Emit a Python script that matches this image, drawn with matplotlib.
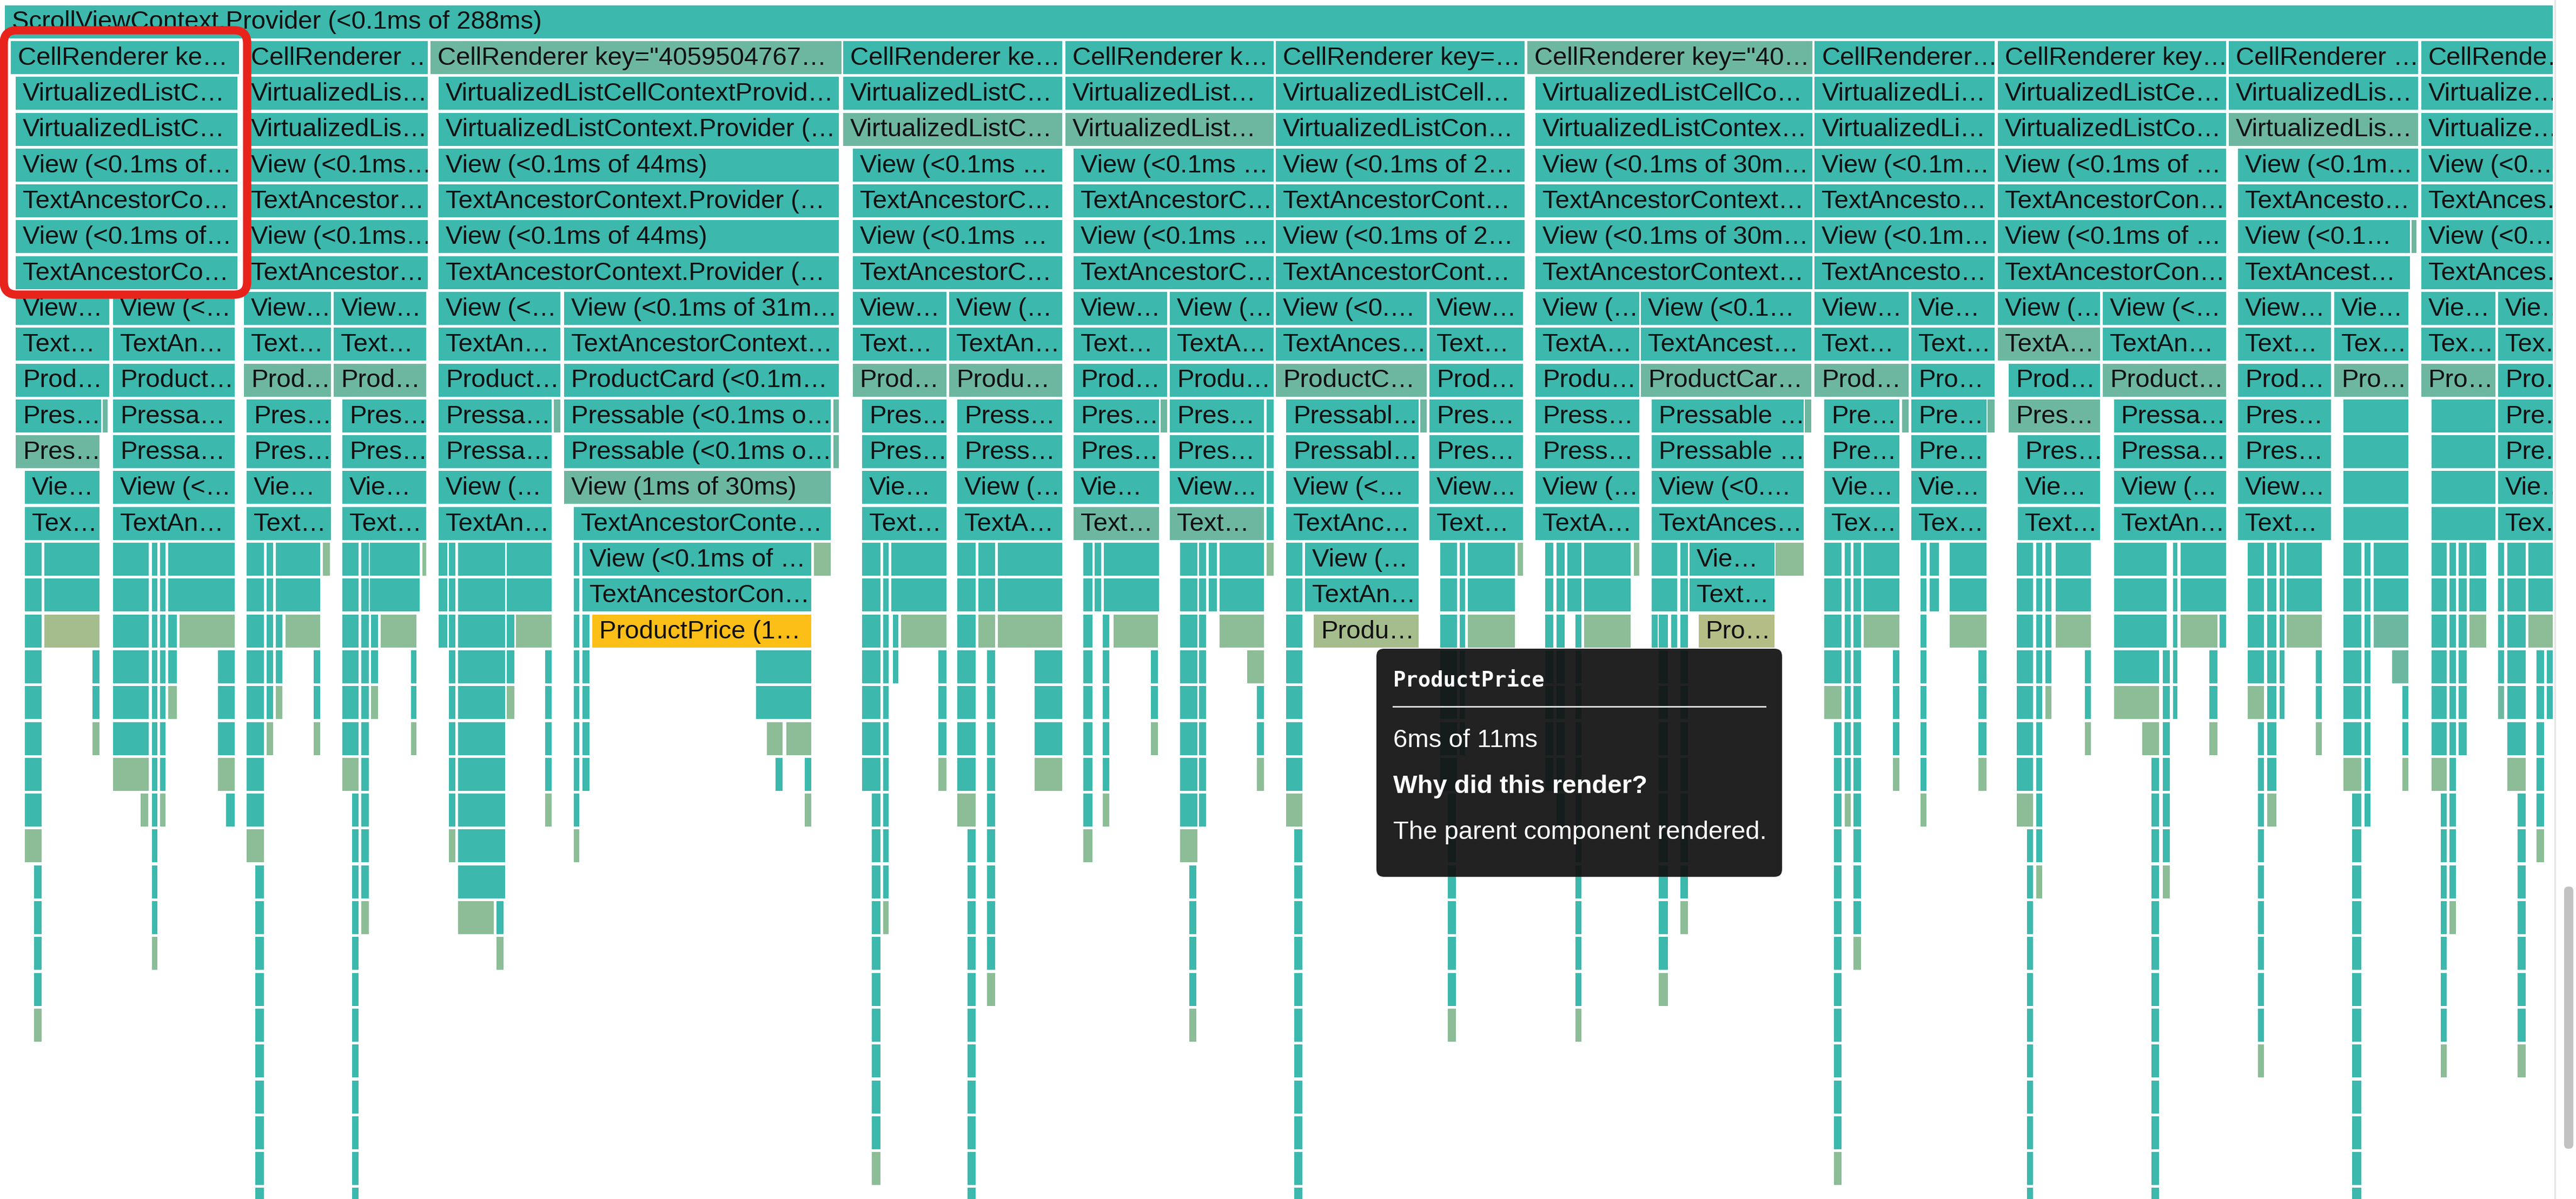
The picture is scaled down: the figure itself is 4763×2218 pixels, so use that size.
import matplotlib
matplotlib.use("Agg")
import matplotlib.pyplot as plt
from matplotlib.patches import FancyBboxPatch
from matplotlib.lines import Line2D
from matplotlib.transforms import Bbox, TransformedBbox, Affine2D, ScaledTranslation

# ---------------------------------------------------------------------------
# Flame-graph data: (depth row, start ms, end ms, label, kind)
# kind: t = rendered, d = muted, g = short render, o/p = longer render, y = selected
# ---------------------------------------------------------------------------
ROOT = [(0, 0.0, 288.0, "ScrollViewContext.Provider (<0.1ms of 288ms)", "t")]

COL1 = [
    (1, 0.70, 26.50, "CellRenderer ke…", "t"),
    (2, 1.20, 26.27, "VirtualizedListC…", "t"),
    (3, 1.20, 26.27, "VirtualizedListC…", "t"),
    (4, 1.20, 26.27, "View (<0.1ms of…", "t"),
    (5, 1.20, 26.27, "TextAncestorCo…", "t"),
    (6, 1.20, 26.27, "View (<0.1ms of…", "t"),
    (7, 1.20, 26.27, "TextAncestorCo…", "t"),
    (8, 1.20, 11.80, "View…", "t"), (8, 12.24, 25.96, "View (<…", "t"),
    (9, 1.20, 11.80, "Text…", "t"), (9, 12.24, 25.96, "TextAn…", "t"),
    (10, 1.20, 11.80, "Prod…", "t"), (10, 12.24, 25.96, "Product…", "t"),
    (11, 1.20, 10.87, "Pres…", "t"), (11, 11.05, 11.61, "", "d"), (11, 12.24, 25.96, "Pressa…", "t"),
    (12, 1.20, 10.68, "Pres…", "d"), (12, 12.24, 25.96, "Pressa…", "t"),
    (13, 2.26, 10.68, "Vie…", "t"), (13, 12.24, 25.96, "View (<…", "t"),
    (14, 2.26, 10.68, "Tex…", "t"), (14, 12.24, 25.96, "TextAn…", "t"),
    (15, 4.44, 10.68, "", "t"), (16, 4.44, 10.68, "", "t"), (17, 4.44, 10.68, "", "o"),
    (15, 18.48, 25.96, "", "t"), (16, 18.48, 25.96, "", "t"), (17, 19.72, 25.96, "", "g"),
    (22, 15.36, 16.17, "", "g"), (22, 25.03, 25.96, "", "t"),
]
TAILS1 = [(2.26, 4.13, 15, 23, "g"), (3.32, 4.13, 24, 28, "g"), (9.93, 10.68, 18, 20, "g"),
          (12.24, 16.29, 15, 21, "g"), (16.60, 17.23, 15, 26, "g"), (17.54, 18.16, 15, 22, "g"),
          (18.48, 19.41, 17, 19, "g"), (24.09, 25.96, 18, 21, "g")]

COL2 = [
    (1, 27.00, 47.79, "CellRenderer …", "t"),
    (2, 27.00, 47.79, "VirtualizedLis…", "t"),
    (3, 27.00, 47.79, "VirtualizedLis…", "t"),
    (4, 27.00, 47.79, "View (<0.1ms…", "t"),
    (5, 27.00, 47.79, "TextAncestor…", "t"),
    (6, 27.00, 47.79, "View (<0.1ms…", "t"),
    (7, 27.00, 47.79, "TextAncestor…", "t"),
    (8, 27.00, 36.88, "View…", "t"), (8, 37.19, 47.61, "View…", "t"),
    (9, 27.00, 36.88, "Text…", "t"), (9, 37.19, 47.61, "Text…", "t"),
    (10, 27.00, 36.88, "Prod…", "d"), (10, 37.19, 47.61, "Prod…", "d"),
    (11, 27.33, 36.88, "Pres…", "t"), (11, 38.13, 47.61, "Pres…", "t"),
    (12, 27.33, 36.88, "Pres…", "t"), (12, 38.13, 47.61, "Pres…", "t"),
    (13, 27.33, 36.88, "Vie…", "t"), (13, 38.13, 47.61, "Vie…", "t"),
    (14, 27.33, 36.88, "Text…", "t"), (14, 38.13, 47.61, "Text…", "t"),
    (15, 30.64, 35.63, "", "t"), (15, 35.94, 36.75, "", "g"), (16, 30.64, 35.63, "", "t"), (17, 31.70, 35.63, "", "g"),
    (15, 41.24, 46.86, "", "t"), (15, 47.17, 47.61, "", "g"), (16, 41.24, 46.86, "", "t"), (17, 42.49, 46.55, "", "g"),
]
TAILS2 = [(27.33, 29.27, 15, 23, "g"), (28.33, 29.27, 24, 33, "t"), (29.58, 30.33, 15, 20, "g"),
          (30.64, 31.39, 17, 19, "g"), (34.88, 35.63, 18, 20, "g"),
          (38.13, 40.00, 15, 21, "g"), (39.25, 40.00, 22, 33, "t"), (40.31, 41.12, 15, 25, "g"),
          (41.37, 42.18, 17, 19, "g"), (45.92, 46.55, 18, 20, "g")]

COL3 = [
    (1, 48.11, 94.58, "CellRenderer key=\"4059504767…", "d"),
    (2, 49.04, 94.27, "VirtualizedListCellContextProvid…", "t"),
    (3, 49.04, 94.27, "VirtualizedListContext.Provider (…", "t"),
    (4, 49.04, 94.27, "View (<0.1ms of 44ms)", "t"),
    (5, 49.04, 94.27, "TextAncestorContext.Provider (…", "t"),
    (6, 49.04, 94.27, "View (<0.1ms of 44ms)", "t"),
    (7, 49.04, 94.27, "TextAncestorContext.Provider (…", "t"),
    (8, 49.04, 62.77, "View (<…", "t"), (8, 63.20, 94.27, "View (<0.1ms of 31m…", "t"),
    (9, 49.04, 62.77, "TextAn…", "t"), (9, 63.20, 94.27, "TextAncestorContext…", "t"),
    (10, 49.04, 62.77, "Product…", "t"), (10, 63.20, 94.27, "ProductCard (<0.1m…", "t"),
    (11, 49.04, 61.83, "Pressa…", "t"), (11, 62.02, 62.77, "", "d"),
    (11, 63.20, 93.33, "Pressable (<0.1ms o…", "t"), (11, 93.65, 94.27, "", "d"),
    (12, 49.04, 61.83, "Pressa…", "t"), (12, 63.20, 93.33, "Pressable (<0.1ms o…", "t"), (12, 93.65, 94.27, "", "d"),
    (13, 49.04, 61.83, "View (…", "t"), (13, 63.20, 93.33, "View (1ms of 30ms)", "d"),
    (14, 49.04, 61.83, "TextAn…", "t"), (14, 64.33, 93.33, "TextAncestorConte…", "t"),
    (15, 56.72, 61.83, "", "t"), (16, 56.72, 61.83, "", "t"), (17, 57.78, 61.83, "", "g"),
    (15, 65.26, 91.15, "View (<0.1ms of …", "t"), (15, 91.46, 93.33, "", "g"),
    (16, 65.26, 91.15, "TextAncestorCon…", "t"),
    (17, 66.38, 91.15, "ProductPrice (1…", "y"),
    (18, 84.91, 91.15, "", "t"), (19, 84.91, 91.15, "", "t"),
    (20, 86.16, 87.90, "", "g"), (20, 88.34, 91.15, "", "g"), (21, 87.09, 87.90, "", "t"),
    (25, 51.23, 55.28, "", "g"),
]
TAILS3 = [(49.04, 49.98, 15, 17, "t"), (50.17, 50.91, 15, 23, "g"), (51.23, 56.53, 15, 24, "t"),
          (55.59, 56.34, 25, 26, "g"), (56.72, 57.59, 17, 19, "g"), (61.08, 61.83, 18, 22, "g"),
          (64.33, 64.95, 15, 23, "g"), (65.26, 66.07, 17, 21, "t"), (90.40, 91.15, 21, 22, "g")]

COL4 = [
    (1, 94.77, 119.53, "CellRenderer ke…", "t"),
    (2, 94.77, 119.53, "VirtualizedListC…", "t"),
    (3, 94.77, 119.53, "VirtualizedListC…", "d"),
    (4, 95.83, 119.53, "View (<0.1ms …", "t"),
    (5, 95.83, 119.53, "TextAncestorC…", "t"),
    (6, 95.83, 119.53, "View (<0.1ms …", "t"),
    (7, 95.83, 119.53, "TextAncestorC…", "t"),
    (8, 95.83, 106.43, "View…", "t"), (8, 106.75, 119.53, "View (…", "t"),
    (9, 95.83, 106.43, "Text…", "t"), (9, 106.75, 119.53, "TextAn…", "t"),
    (10, 95.83, 106.43, "Prod…", "d"), (10, 106.75, 119.53, "Produ…", "d"),
    (11, 96.89, 106.43, "Pres…", "t"), (11, 107.68, 119.53, "Press…", "t"),
    (12, 96.89, 106.43, "Pres…", "t"), (12, 107.68, 119.53, "Press…", "t"),
    (13, 96.89, 106.43, "Vie…", "t"), (13, 107.68, 119.53, "View (…", "t"),
    (14, 96.89, 106.43, "Text…", "t"), (14, 107.68, 119.53, "TextA…", "t"),
    (15, 100.20, 106.43, "", "t"), (16, 100.20, 106.43, "", "t"), (17, 101.32, 106.43, "", "g"),
    (15, 112.23, 119.53, "", "t"), (16, 112.23, 119.53, "", "t"), (17, 112.23, 119.53, "", "g"),
]
TAILS4 = [(96.89, 98.95, 15, 21, "t"), (98.01, 98.95, 22, 32, "g"), (99.26, 99.88, 15, 25, "g"),
          (100.38, 101.01, 17, 18, "t"), (105.50, 106.43, 18, 21, "g"),
          (107.68, 109.74, 15, 22, "g"), (108.80, 109.74, 23, 33, "t"), (110.05, 111.92, 15, 17, "g"),
          (110.99, 111.92, 18, 27, "g"), (116.41, 119.53, 18, 21, "g")]

COL5 = [
    (1, 119.85, 143.42, "CellRenderer k…", "t"),
    (2, 119.85, 143.42, "VirtualizedList…", "t"),
    (3, 119.85, 143.42, "VirtualizedList…", "d"),
    (4, 120.78, 143.42, "View (<0.1ms …", "t"),
    (5, 120.78, 143.42, "TextAncestorC…", "t"),
    (6, 120.78, 143.42, "View (<0.1ms …", "t"),
    (7, 120.78, 143.42, "TextAncestorC…", "t"),
    (8, 120.78, 131.39, "View…", "t"), (8, 131.70, 143.42, "View (…", "t"),
    (9, 120.78, 131.39, "Text…", "t"), (9, 131.70, 143.42, "TextA…", "t"),
    (10, 120.78, 131.39, "Prod…", "t"), (10, 131.70, 143.42, "Produ…", "t"),
    (11, 120.78, 130.45, "Pres…", "t"), (11, 130.64, 131.39, "", "d"), (11, 131.70, 142.30, "Pres…", "t"),
    (12, 120.78, 130.45, "Pres…", "t"), (12, 131.70, 142.30, "Pres…", "t"),
    (13, 120.78, 130.45, "Vie…", "t"), (13, 131.70, 142.30, "View…", "t"),
    (14, 120.78, 130.45, "Text…", "d"), (14, 131.70, 142.30, "Text…", "d"),
    (15, 124.21, 130.45, "", "t"), (16, 124.21, 130.45, "", "t"), (17, 125.33, 130.32, "", "g"),
    (15, 137.31, 142.30, "", "t"), (16, 137.31, 142.30, "", "t"), (17, 137.31, 142.30, "", "g"),
    (18, 140.43, 142.30, "", "g"),
]
TAILS5 = [(121.90, 122.96, 15, 23, "g"), (123.15, 123.90, 15, 16, "t"), (124.09, 124.84, 17, 22, "g"),
          (129.51, 130.32, 18, 20, "g"), (132.82, 134.82, 15, 23, "g"), (133.88, 134.69, 24, 28, "g"),
          (135.00, 135.75, 15, 22, "t"), (136.06, 137.00, 15, 16, "t"), (141.55, 142.30, 19, 21, "g"),
          (142.61, 143.42, 11, 15, "g")]

COL6 = [
    (1, 143.67, 171.75, "CellRenderer key=…", "t"),
    (2, 143.67, 171.75, "VirtualizedListCell…", "t"),
    (3, 143.67, 171.75, "VirtualizedListCon…", "t"),
    (4, 143.67, 171.75, "View (<0.1ms of 2…", "t"),
    (5, 143.67, 171.75, "TextAncestorCont…", "t"),
    (6, 143.67, 171.75, "View (<0.1ms of 2…", "t"),
    (7, 143.67, 171.75, "TextAncestorCont…", "t"),
    (8, 143.67, 160.70, "View (<0.…", "t"), (8, 161.02, 171.62, "View…", "t"),
    (9, 143.67, 160.70, "TextAnces…", "t"), (9, 161.02, 171.62, "Text…", "t"),
    (10, 143.67, 160.70, "ProductC…", "d"), (10, 161.02, 171.62, "Prod…", "t"),
    (11, 144.80, 159.77, "Pressabl…", "t"), (11, 159.96, 160.70, "", "d"), (11, 161.02, 171.62, "Pres…", "t"),
    (12, 144.80, 159.77, "Pressabl…", "t"), (12, 161.02, 171.62, "Pres…", "t"),
    (13, 144.80, 159.77, "View (<…", "t"), (13, 161.02, 171.62, "View…", "t"),
    (14, 144.80, 159.77, "TextAnc…", "t"), (14, 161.02, 171.62, "Text…", "t"),
    (15, 146.98, 159.77, "View (…", "t"), (16, 146.98, 159.77, "TextAn…", "t"),
    (17, 147.92, 159.77, "Produ…", "o"),
    (15, 165.38, 170.68, "", "t"), (16, 165.38, 170.68, "", "t"), (17, 165.38, 170.68, "", "g"),
    (15, 171.00, 171.62, "", "g"),
]
TAILS6 = [(144.80, 146.67, 15, 22, "g"), (145.73, 146.67, 23, 33, "t"), (162.26, 164.13, 15, 21, "t"),
          (163.07, 164.01, 22, 28, "g"), (164.45, 165.07, 15, 20, "t")]

COL7 = [
    (1, 172.06, 204.30, "CellRenderer key=\"40…", "d"),
    (2, 173.00, 204.30, "VirtualizedListCellCo…", "t"),
    (3, 173.00, 204.30, "VirtualizedListContex…", "t"),
    (4, 173.00, 204.30, "View (<0.1ms of 30m…", "t"),
    (5, 173.00, 204.30, "TextAncestorContext…", "t"),
    (6, 173.00, 204.30, "View (<0.1ms of 30m…", "t"),
    (7, 173.00, 204.30, "TextAncestorContext…", "t"),
    (8, 173.00, 184.72, "View (…", "t"), (8, 184.91, 204.16, "View (<0.1…", "t"),
    (9, 173.00, 184.72, "TextA…", "t"), (9, 184.91, 204.16, "TextAncest…", "t"),
    (10, 173.00, 184.72, "Produ…", "t"), (10, 184.91, 204.16, "ProductCar…", "d"),
    (11, 173.00, 184.72, "Press…", "t"), (11, 186.15, 203.33, "Pressable …", "t"), (11, 203.47, 204.16, "", "d"),
    (12, 173.00, 184.72, "Press…", "t"), (12, 186.15, 203.33, "Pressable …", "t"),
    (13, 173.00, 184.72, "View (…", "t"), (13, 186.15, 203.33, "View (<0.…", "t"),
    (14, 173.00, 184.72, "TextA…", "t"), (14, 186.15, 203.33, "TextAnces…", "t"),
    (15, 178.48, 183.78, "", "t"), (16, 178.48, 183.78, "", "t"), (17, 178.48, 183.78, "", "g"),
    (15, 184.10, 184.72, "", "g"),
    (15, 186.15, 189.04, "", "t"), (16, 186.15, 189.04, "", "t"), (17, 186.15, 186.80, "", "t"),
    (15, 190.41, 200.04, "Vie…", "t"), (16, 190.41, 200.04, "Text…", "t"), (17, 191.44, 200.04, "Pro…", "p"),
    (15, 200.17, 203.33, "", "g"),
]
TAILS7 = [(174.12, 175.05, 15, 21, "t"), (175.36, 176.30, 15, 22, "t"), (176.61, 178.17, 15, 16, "t"),
          (177.55, 178.17, 17, 28, "g"), (186.97, 188.01, 17, 27, "g"), (188.35, 189.04, 17, 17, "t"),
          (189.38, 190.27, 15, 25, "g")]

COL8 = [
    (1, 204.57, 224.92, "CellRenderer…", "t"),
    (2, 204.57, 224.92, "VirtualizedLi…", "t"),
    (3, 204.57, 224.92, "VirtualizedLi…", "t"),
    (4, 204.57, 224.92, "View (<0.1m…", "t"),
    (5, 204.57, 224.92, "TextAncesto…", "t"),
    (6, 204.57, 224.92, "View (<0.1m…", "t"),
    (7, 204.57, 224.92, "TextAncesto…", "t"),
    (8, 204.57, 215.16, "View…", "t"), (8, 215.50, 224.92, "Vie…", "t"),
    (9, 204.57, 215.16, "Text…", "t"), (9, 215.50, 224.92, "Text…", "t"),
    (10, 204.57, 215.16, "Prod…", "d"), (10, 215.50, 224.92, "Pro…", "t"),
    (11, 205.67, 214.13, "Pre…", "t"), (11, 214.47, 215.16, "", "d"),
    (11, 215.50, 223.96, "Pre…", "t"), (11, 224.09, 224.92, "", "d"),
    (12, 205.67, 214.13, "Pre…", "t"), (12, 215.50, 223.96, "Pre…", "t"),
    (13, 205.67, 214.13, "Vie…", "t"), (13, 215.50, 223.96, "Vie…", "t"),
    (14, 205.67, 214.13, "Tex…", "t"), (14, 215.50, 223.96, "Tex…", "t"),
    (15, 210.14, 214.13, "", "t"), (16, 210.14, 214.13, "", "t"), (17, 210.14, 214.13, "", "g"),
    (15, 217.56, 218.59, "", "t"), (16, 217.56, 218.59, "", "t"),
    (15, 219.83, 223.96, "", "t"), (16, 219.83, 223.96, "", "t"), (17, 219.83, 223.96, "", "g"),
]
TAILS8 = [(205.67, 207.60, 15, 19, "g"), (206.77, 207.60, 20, 32, "g"), (207.94, 208.63, 15, 22, "g"),
          (208.97, 209.80, 15, 26, "g"), (213.44, 214.13, 18, 21, "g"), (216.53, 217.22, 15, 22, "g"),
          (223.06, 223.96, 18, 21, "g")]

COL9 = [
    (1, 225.26, 251.04, "CellRenderer key…", "t"),
    (2, 225.26, 251.04, "VirtualizedListCe…", "t"),
    (3, 225.26, 251.04, "VirtualizedListCo…", "t"),
    (4, 225.26, 251.04, "View (<0.1ms of …", "t"),
    (5, 225.26, 251.04, "TextAncestorCon…", "t"),
    (6, 225.26, 251.04, "View (<0.1ms of …", "t"),
    (7, 225.26, 251.04, "TextAncestorCon…", "t"),
    (8, 225.26, 236.81, "View (…", "t"), (8, 237.15, 251.04, "View (<…", "t"),
    (9, 225.26, 236.81, "TextA…", "d"), (9, 237.15, 251.04, "TextAn…", "t"),
    (10, 226.50, 236.81, "Prod…", "t"), (10, 237.15, 251.04, "Product…", "d"),
    (11, 226.50, 236.81, "Pres…", "d"), (11, 238.39, 251.04, "Pressa…", "t"),
    (12, 227.53, 236.81, "Pres…", "t"), (12, 238.39, 251.04, "Pressa…", "t"),
    (13, 227.53, 236.81, "Vie…", "t"), (13, 238.39, 251.04, "View (…", "t"),
    (14, 227.53, 236.81, "Text…", "t"), (14, 238.39, 251.04, "TextAn…", "t"),
    (15, 231.79, 235.78, "", "t"), (16, 231.79, 235.78, "", "t"), (17, 231.79, 235.78, "", "g"),
    (15, 245.95, 251.04, "", "t"), (16, 245.95, 251.04, "", "t"), (17, 245.95, 250.08, "", "g"),
    (17, 250.35, 251.04, "", "t"),
    (18, 238.39, 243.48, "", "t"), (19, 238.39, 243.48, "", "g"), (20, 241.62, 243.48, "", "g"),
]
TAILS9 = [(227.39, 229.25, 15, 22, "g"), (228.56, 229.25, 23, 33, "t"), (229.59, 230.28, 15, 24, "g"),
          (230.62, 231.31, 15, 19, "g"), (235.09, 235.78, 18, 20, "g"), (238.39, 244.37, 15, 17, "t"),
          (243.89, 244.72, 18, 24, "g"), (245.06, 245.54, 15, 19, "t"), (249.18, 250.08, 18, 20, "g"),
          (242.65, 243.48, 21, 33, "t")]

COL10 = [
    (1, 251.38, 272.76, "CellRenderer …", "t"),
    (2, 251.38, 272.76, "VirtualizedLis…", "t"),
    (3, 251.38, 272.76, "VirtualizedLis…", "d"),
    (4, 252.41, 272.76, "View (<0.1m…", "t"),
    (5, 252.41, 272.76, "TextAncesto…", "t"),
    (6, 252.41, 271.87, "View (<0.1…", "t"), (6, 272.01, 272.56, "", "d"),
    (7, 252.41, 271.87, "TextAncest…", "t"),
    (8, 252.41, 262.93, "View…", "t"), (8, 263.28, 271.66, "Vie…", "t"),
    (9, 252.41, 262.93, "Text…", "t"), (9, 263.28, 271.66, "Tex…", "t"),
    (10, 252.41, 262.93, "Prod…", "t"), (10, 263.28, 271.66, "Pro…", "d"),
    (11, 252.41, 262.93, "Pres…", "t"), (11, 264.31, 271.66, "", "t"),
    (12, 252.41, 262.93, "Pres…", "t"), (12, 264.31, 271.66, "", "t"),
    (13, 252.41, 262.93, "View…", "t"), (13, 264.31, 271.66, "", "t"),
    (14, 252.41, 262.93, "Text…", "t"), (14, 264.31, 271.66, "", "t"),
    (15, 257.92, 261.90, "", "t"), (16, 257.92, 261.90, "", "t"), (17, 257.92, 261.90, "", "g"),
    (15, 267.74, 271.66, "", "t"), (16, 267.74, 271.66, "", "t"), (17, 267.74, 271.66, "", "d"),
    (18, 269.81, 271.66, "", "d"),
]
TAILS10 = [(253.51, 255.37, 15, 19, "g"), (254.68, 255.37, 20, 29, "g"), (255.71, 256.75, 15, 22, "g"),
           (257.09, 257.64, 15, 19, "t"), (261.21, 261.90, 18, 20, "g"), (264.31, 266.37, 15, 21, "g"),
           (265.34, 266.37, 22, 33, "t"), (266.71, 267.40, 15, 22, "t"), (270.97, 271.66, 19, 21, "g")]

COL11 = [
    (1, 273.11, 288.0, "CellRende…", "t"),
    (2, 273.11, 288.0, "Virtualize…", "t"),
    (3, 273.11, 288.0, "Virtualize…", "t"),
    (4, 273.11, 288.0, "View (<0.…", "t"),
    (5, 273.11, 288.0, "TextAnces…", "t"),
    (6, 273.11, 288.0, "View (<0.…", "t"),
    (7, 273.11, 288.0, "TextAnces…", "t"),
    (8, 273.11, 281.49, "Vie…", "t"), (8, 281.83, 288.0, "Vie…", "t"),
    (9, 273.11, 281.49, "Tex…", "t"), (9, 281.83, 288.0, "Tex…", "t"),
    (10, 273.11, 281.49, "Pro…", "d"), (10, 281.83, 288.0, "Pro…", "t"),
    (11, 274.27, 281.49, "", "t"), (11, 281.83, 288.0, "Pre…", "t"),
    (12, 274.27, 281.49, "", "t"), (12, 281.83, 288.0, "Pre…", "t"),
    (13, 274.27, 281.49, "", "t"), (13, 281.83, 288.0, "Vie…", "t"),
    (14, 274.27, 281.49, "", "t"), (14, 281.83, 288.0, "Tex…", "t"),
    (15, 278.60, 280.46, "", "t"), (16, 278.60, 280.46, "", "t"), (17, 278.60, 280.46, "", "g"),
    (15, 285.27, 288.0, "", "t"), (16, 285.27, 288.0, "", "t"), (17, 285.27, 288.0, "", "g"),
]
TAILS11 = [(274.27, 275.99, 15, 21, "g"), (275.31, 275.99, 22, 29, "g"), (276.33, 277.02, 15, 25, "g"),
           (277.37, 278.26, 15, 20, "t"), (281.83, 282.52, 15, 19, "d"), (282.87, 284.93, 15, 21, "g"),
           (284.03, 284.93, 22, 29, "g"), (286.17, 286.99, 18, 23, "g"), (287.33, 288.0, 18, 19, "t")]

TOOLTIP_TITLE = "ProductPrice"
TOOLTIP_TIME = "6ms of 11ms"
TOOLTIP_Q = "Why did this render?"
TOOLTIP_A = "The parent component rendered."

KIND_COLORS = {"t": "#3cb8ad", "d": "#6db7a0", "g": "#8cbd97", "o": "#a5bd8c",
               "p": "#b3bd85", "y": "#fbbf18"}

# ---------------------------------------------------------------------------
def expand_tails(tails):
    out = []
    for t0, t1, r0, r1, last in tails:
        for r in range(r0, r1 + 1):
            out.append((r, t0, t1, "", last if r == r1 else "t"))
    return out

frames = list(ROOT)
for col, tails in [(COL1, TAILS1), (COL2, TAILS2), (COL3, TAILS3), (COL4, TAILS4),
                   (COL5, TAILS5), (COL6, TAILS6), (COL7, TAILS7), (COL8, TAILS8),
                   (COL9, TAILS9), (COL10, TAILS10), (COL11, TAILS11)]:
    frames += col
    frames += expand_tails(tails)

W, H, DPI = 4763, 2218, 100
fig = plt.figure(figsize=(W / DPI, H / DPI), dpi=DPI)
fig.patch.set_facecolor("white")
ax = fig.add_axes([0, 0, 1, 1])
ax.set_xlim(-0.55, 290.62)
ax.set_ylim(33.31, -0.145)
ax.axis("off")

BAR_H = 0.92
rows = [f[0] for f in frames]
starts = [f[1] for f in frames]
widths = [f[2] - f[1] for f in frames]
colors = [KIND_COLORS[f[4]] for f in frames]
ax.barh([r + BAR_H / 2 for r in rows], widths, left=starts, height=BAR_H,
        color=colors, edgecolor="none", linewidth=0)

offset = ScaledTranslation(0.13, 0, fig.dpi_scale_trans)
FONT = ["Liberation Sans", "DejaVu Sans"]
for r, t0, t1, label, kind in frames:
    if not label:
        continue
    txt = ax.text(t0, r + BAR_H / 2 + 0.02, label, transform=ax.transData + offset,
                  ha="left", va="center", fontsize=34, family=FONT, color="#111111")
    txt.set_clip_box(TransformedBbox(Bbox([[t0, r], [t1, r + BAR_H]]), ax.transData))
    txt.set_clip_on(True)

# ---------------------------------------------------------------------------
# UI overlays in pixel coordinates (origin top-left)
px = Affine2D().scale(1.0 / W, -1.0 / H).translate(0, 1) + fig.transFigure

# right panel edge + scrollbar
fig.add_artist(Line2D([4724, 4724], [0, H], transform=px, color="#e6e6e6", lw=2.5))
fig.add_artist(FancyBboxPatch((4741, 1640), 17, 485, boxstyle="round,pad=0,rounding_size=8",
                              transform=px, facecolor="#c2c2c2", edgecolor="none"))

# red highlight box
fig.add_artist(FancyBboxPatch((7, 56), 450, 489, boxstyle="round,pad=0,rounding_size=24",
                              transform=px, fill=False, edgecolor="#e8231b", linewidth=11))

# tooltip
fig.add_artist(FancyBboxPatch((2545, 1200), 750, 422, boxstyle="round,pad=0,rounding_size=14",
                              transform=px, facecolor="#111111", edgecolor="none", alpha=0.93))
fig.text(2576, 1259, TOOLTIP_TITLE, transform=px, ha="left", va="center", color="white",
         fontsize=28, family=["DejaVu Sans Mono"], weight="bold")
fig.add_artist(Line2D([2576, 3264], [1307, 1307], transform=px, color="#d8d8d8", lw=2.2))
fig.text(2576, 1370, TOOLTIP_TIME, transform=px, ha="left", va="center", color="white",
         fontsize=34, family=FONT)
fig.text(2576, 1455, TOOLTIP_Q, transform=px, ha="left", va="center", color="white",
         fontsize=34, family=FONT, weight="bold")
fig.text(2576, 1540, TOOLTIP_A, transform=px, ha="left", va="center", color="white",
         fontsize=34, family=FONT)

fig.savefig("out.png", dpi=DPI, facecolor="white")
